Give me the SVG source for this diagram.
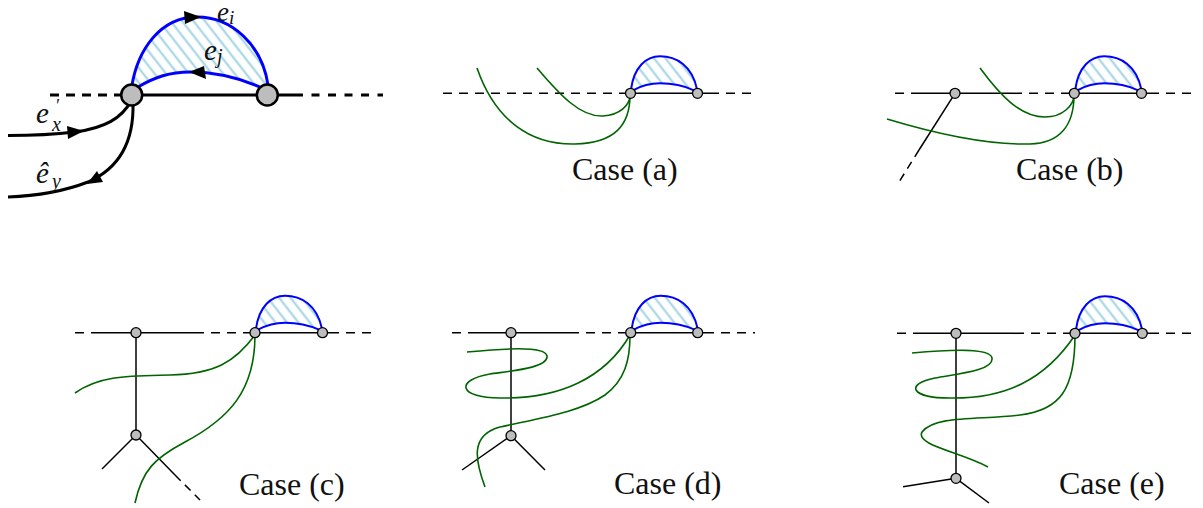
<svg xmlns="http://www.w3.org/2000/svg" width="1203" height="508" viewBox="0 0 1203 508">
<style>
.ln{fill:none;stroke:#000;stroke-width:1.5}
.lnb{fill:none;stroke:#000;stroke-width:3}
.dash{stroke-dasharray:9 7}
.gr{fill:none;stroke:#006400;stroke-width:1.6}
.bl{fill:none;stroke:#0000ff;stroke-width:2}
.blb{fill:none;stroke:#0000ff;stroke-width:3}
.nd{fill:#bdbdbd;stroke:#000;stroke-width:1.3}
.ndb{fill:#bdbdbd;stroke:#000;stroke-width:2.5}
.ah{fill:#000}
.cap{font-size:32px;fill:#111}
.m{font-style:italic;fill:#111}
</style>
<defs>
<pattern id="hatch" patternUnits="userSpaceOnUse" width="9" height="9" patternTransform="rotate(-38)">
<line x1="4.5" y1="-1" x2="4.5" y2="10" stroke="#9fd2e3" stroke-width="2"/>
</pattern>
<g id="lens">
<path d="M1,-4 C4,-26 16,-37 30,-37 C46,-37 62,-28 67,-4 L64,-3 C53,-8 42,-10 30,-10 C22,-10 14,-9 3,-3 Z" fill="url(#hatch)"/>
<path class="bl" d="M1,-4 C4,-26 16,-37 30,-37 C46,-37 62,-28 67,-4"/>
<path class="bl" d="M3,-3 C14,-9 22,-10 30,-10 C42,-10 53,-8 64,-3"/>
</g>
</defs>

<!-- Main panel -->
<g id="main">
<g id="main-connectors">
<path d="M132,85 C138,50 160,17 197,17 C232,17 262,45 268,85 L262,88 C240,78 215,72 190,72 C170,72 155,77 138,87 Z" fill="url(#hatch)"/>
<path class="blb" d="M132,85 C138,50 160,17 197,17 C232,17 262,45 268,85"/>
<path class="blb" d="M138,87 C155,77 170,72 190,72 C215,72 240,78 262,88"/>
<line class="lnb" x1="50" y1="95" x2="120" y2="95" style="stroke-dasharray:9 7"/>
<line class="lnb" x1="120" y1="95" x2="295" y2="95"/>
<line class="lnb" x1="295" y1="95" x2="383" y2="95" style="stroke-dasharray:8 8.5"/>
<path class="lnb" d="M131,101 C122,118 105,128 75,132 C50,135 25,135.5 8,135.5"/>
<path class="lnb" d="M133,103 C134,140 120,168 88,182 C62,192 35,196 8,197"/>
<polygon class="ah" points="201,17 184,11 185,24"/>
<polygon class="ah" points="189,72 204,66 206,79"/>
<polygon class="ah" points="84,131 67,126 68,139"/>
<polygon class="ah" points="87,184 103,182 97,171"/>
</g>
<g id="main-n1"><circle class="ndb" cx="131.7" cy="95" r="10.5"/></g>
<g id="main-n2"><circle class="ndb" cx="267.3" cy="95" r="10.5"/></g>
<g font-family="'Liberation Serif', 'Times New Roman', serif">
<text class="m" x="217" y="21" font-size="27">e<tspan font-size="19" dy="3">i</tspan></text>
<text class="m" x="204" y="60" font-size="29">e<tspan font-size="20" dy="3">j</tspan></text>
<text class="m" x="36" y="123" font-size="29">e</text>
<text class="m" x="55" y="112" font-size="18">′</text>
<text class="m" x="52" y="131" font-size="20">x</text>
<text class="m" x="36" y="183" font-size="29">ê</text>
<text class="m" x="52" y="188" font-size="20">y</text>
</g>
</g>

<!-- Case (a) -->
<g id="case-a">
<g id="case-a-connectors">
<use href="#lens" transform="translate(630,93.3)"/>
<line class="ln dash" x1="443" y1="93.3" x2="630" y2="93.3"/>
<line class="ln" x1="630" y1="93.3" x2="710" y2="93.3"/>
<line class="ln dash" x1="710" y1="93.3" x2="753" y2="93.3"/>
<path class="gr" d="M477,68 C495,120 530,145 575,144 C615,143 630,125 630,95"/>
<path class="gr" d="M537,68 C560,95 580,117 603,116 C620,115 630,105 630,95"/>
</g>
<g id="case-a-n1"><circle class="nd" cx="630.5" cy="93.3" r="5"/></g>
<g id="case-a-n2"><circle class="nd" cx="697.5" cy="93.3" r="5"/></g>
<text class="cap" font-family="'Liberation Serif', 'Times New Roman', serif" x="572" y="180">Case (a)</text>
</g>

<!-- Case (b) -->
<g id="case-b">
<g id="case-b-connectors">
<use href="#lens" transform="translate(1074.3,93.3)"/>
<line class="ln dash" x1="895" y1="93.3" x2="915" y2="93.3"/>
<line class="ln" x1="915" y1="93.3" x2="1013" y2="93.3"/>
<line class="ln dash" x1="1013" y1="93.3" x2="1074" y2="93.3"/>
<line class="ln" x1="1074" y1="93.3" x2="1150" y2="93.3"/>
<line class="ln dash" x1="1150" y1="93.3" x2="1198" y2="93.3"/>
<line class="ln" x1="955" y1="93.3" x2="919" y2="150"/>
<line class="ln" x1="919" y1="150" x2="899" y2="182" style="stroke-dasharray:8 6"/>
<path class="gr" d="M887,119 C940,135 990,145 1030,144 C1060,143 1074,125 1074,95"/>
<path class="gr" d="M980,68 C1000,95 1020,117 1045,117 C1063,117 1074,105 1074,95"/>
</g>
<g id="case-b-n0"><circle class="nd" cx="955" cy="93.3" r="5"/></g>
<g id="case-b-n1"><circle class="nd" cx="1074.3" cy="93.3" r="5"/></g>
<g id="case-b-n2"><circle class="nd" cx="1141.5" cy="93.3" r="5"/></g>
<text class="cap" font-family="'Liberation Serif', 'Times New Roman', serif" x="1016" y="180">Case (b)</text>
</g>

<!-- Case (c) -->
<g id="case-c">
<g id="case-c-connectors">
<use href="#lens" transform="translate(255,332.7)"/>
<line class="ln dash" x1="75" y1="332.7" x2="100" y2="332.7"/>
<line class="ln" x1="100" y1="332.7" x2="195" y2="332.7"/>
<line class="ln dash" x1="195" y1="332.7" x2="255" y2="332.7"/>
<line class="ln" x1="255" y1="332.7" x2="330" y2="332.7"/>
<line class="ln dash" x1="330" y1="332.7" x2="378" y2="332.7"/>
<line class="ln" x1="136" y1="332.7" x2="136" y2="435"/>
<line class="ln" x1="136" y1="435" x2="102" y2="469"/>
<line class="ln" x1="136" y1="435" x2="175" y2="475"/>
<line class="ln" x1="175" y1="475" x2="200" y2="500" style="stroke-dasharray:8 6"/>
<path class="gr" d="M75,393 C100,375 130,376 170,375 C215,374 235,362 255,335"/>
<path class="gr" d="M135,503 C142,470 155,458 185,442 C230,418 255,390 255,335"/>
</g>
<g id="case-c-nA"><circle class="nd" cx="136" cy="332.7" r="5"/></g>
<g id="case-c-nB"><circle class="nd" cx="136" cy="435" r="5"/></g>
<g id="case-c-n1"><circle class="nd" cx="255" cy="332.7" r="5"/></g>
<g id="case-c-n2"><circle class="nd" cx="322.5" cy="332.7" r="5"/></g>
<text class="cap" font-family="'Liberation Serif', 'Times New Roman', serif" x="239" y="495">Case (c)</text>
</g>

<!-- Case (d) -->
<g id="case-d">
<g id="case-d-connectors">
<use href="#lens" transform="translate(630.7,332.7)"/>
<line class="ln dash" x1="452" y1="332.7" x2="470" y2="332.7"/>
<line class="ln" x1="470" y1="332.7" x2="570" y2="332.7"/>
<line class="ln dash" x1="570" y1="332.7" x2="630" y2="332.7"/>
<line class="ln" x1="630" y1="332.7" x2="705" y2="332.7"/>
<line class="ln dash" x1="705" y1="332.7" x2="755" y2="332.7"/>
<line class="ln" x1="511" y1="332.7" x2="511" y2="435.7"/>
<line class="ln" x1="511" y1="435.7" x2="462" y2="470"/>
<line class="ln" x1="511" y1="435.7" x2="545" y2="470"/>
<path class="gr" d="M467,352 C500,349 545,345 547,356 C549,368 510,371 490,374 C455,380 458,398 500,398 C560,399 605,378 630,335"/>
<path class="gr" d="M485,487 C475,460 470,435 500,427 C540,418 580,412 605,395 C625,380 630,360 630,335"/>
</g>
<g id="case-d-nA"><circle class="nd" cx="511" cy="332.7" r="5"/></g>
<g id="case-d-nB"><circle class="nd" cx="511" cy="435.7" r="5"/></g>
<g id="case-d-n1"><circle class="nd" cx="630.7" cy="332.7" r="5"/></g>
<g id="case-d-n2"><circle class="nd" cx="697.7" cy="332.7" r="5"/></g>
<text class="cap" font-family="'Liberation Serif', 'Times New Roman', serif" x="614" y="494">Case (d)</text>
</g>

<!-- Case (e) -->
<g id="case-e">
<g id="case-e-connectors">
<use href="#lens" transform="translate(1075,333.3)"/>
<line class="ln dash" x1="897" y1="333.3" x2="922" y2="333.3"/>
<line class="ln" x1="922" y1="333.3" x2="1015" y2="333.3"/>
<line class="ln dash" x1="1015" y1="333.3" x2="1075" y2="333.3"/>
<line class="ln" x1="1075" y1="333.3" x2="1150" y2="333.3"/>
<line class="ln dash" x1="1150" y1="333.3" x2="1198" y2="333.3"/>
<line class="ln" x1="956" y1="333.3" x2="956" y2="478.3"/>
<line class="ln" x1="956" y1="478.3" x2="903" y2="486.7"/>
<line class="ln" x1="956" y1="478.3" x2="989" y2="503"/>
<path class="gr" d="M912,353 C945,350 990,347 992,358 C994,371 955,374 935,378 C905,384 910,398 950,398 C1005,399 1045,380 1075,335"/>
<path class="gr" d="M1075,335 C1075,390 1060,410 1020,415 C980,420 935,415 922,432 C915,445 960,452 988,467"/>
</g>
<g id="case-e-nA"><circle class="nd" cx="956" cy="333.3" r="5"/></g>
<g id="case-e-nB"><circle class="nd" cx="956" cy="478.3" r="5"/></g>
<g id="case-e-n1"><circle class="nd" cx="1075" cy="333.3" r="5"/></g>
<g id="case-e-n2"><circle class="nd" cx="1142.3" cy="333.3" r="5"/></g>
<text class="cap" font-family="'Liberation Serif', 'Times New Roman', serif" x="1059" y="494">Case (e)</text>
</g>
</svg>
